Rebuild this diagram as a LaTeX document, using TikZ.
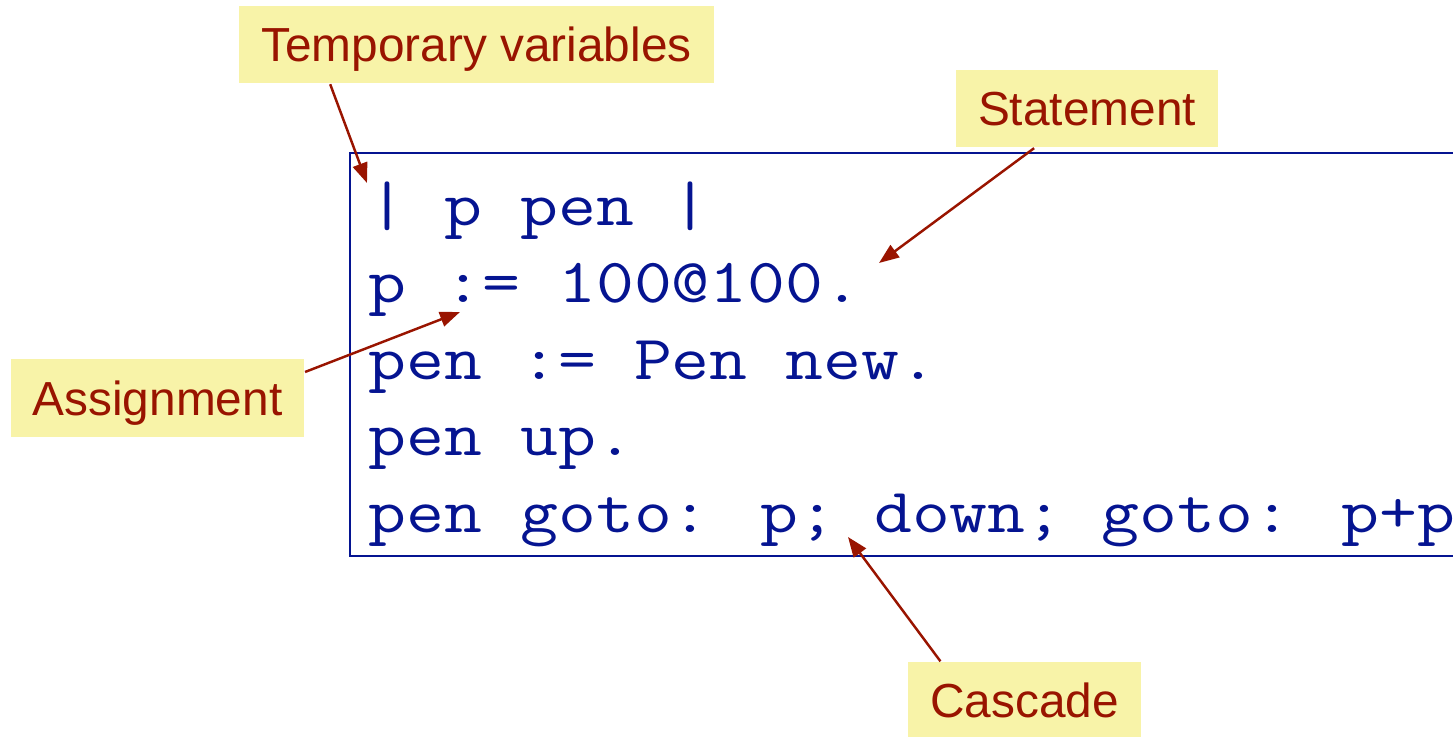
\documentclass[tikz,border=0pt]{standalone}
\usepackage{fontspec}
\setmainfont{Liberation Sans}
\newfontfamily\codefont{Latin Modern Mono}[FakeStretch=1.17]
\usepackage{tikz}
\usetikzlibrary{arrows.meta}
\definecolor{notefill}{RGB}{248,243,168}
\definecolor{notetext}{RGB}{153,20,0}
\definecolor{codeblue}{RGB}{5,20,145}

\begin{document}
\begin{tikzpicture}[
    note/.style={fill=notefill,text=notetext,font=\fontsize{13.6}{16}\selectfont,inner xsep=0.22cm,text height=0.34cm,text depth=0cm,minimum height=0.77cm},
    codeline/.style={anchor=base west,inner sep=0,text=codeblue,font=\codefont\fontsize{17.9}{22}\selectfont},
    pointer/.style={-{Triangle[length=2mm,width=1.5mm]},draw=notetext,line width=0.7pt}]
    \useasboundingbox (0,0) rectangle (14.53,7.36);
    \node[draw=codeblue,line width=0.6pt,minimum width=11.6cm,minimum height=4.03cm,anchor=north west] (codebox) at (3.49,5.84) {};

    \node[codeline] (decl) at (3.68,5.10) {| p pen |};
    \node[codeline] (assignp) at (3.68,4.33) {p := 100@100.};
    \node[codeline] (assignpen) at (3.68,3.56) {pen := Pen new.};
    \node[codeline] (penup) at (3.68,2.81) {pen up.};
    \node[codeline] (pengoto) at (3.68,2.04) {pen goto: p; down; goto: p+p};

    \node[note] (tmpvars) at (4.765,6.91) {Temporary variables};
    \node[note] (stmt) at (10.87,6.27) {Statement};
    \node[note] (assign) at (1.575,3.38) {Assignment};
    \node[note] (cascade) at (10.245,0.355) {Cascade};

    \coordinate (tmpTip) at (3.67,5.53);
    \coordinate (stmtTip) at (8.79,4.73);
    \coordinate (assignTip) at (4.60,4.24);
    \coordinate (cascadeTip) at (8.48,1.99);

    \draw [pointer] (tmpvars.195) -- (tmpTip);
    \draw [pointer] (stmt) -- (stmtTip);
    \draw [pointer] (assign.10) -- (assignTip);
    \draw [pointer] (cascade.155) -- (cascadeTip);
\end{tikzpicture}
\end{document}
